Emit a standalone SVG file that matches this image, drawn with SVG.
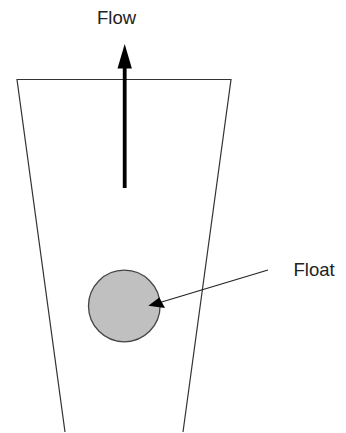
<svg xmlns="http://www.w3.org/2000/svg" width="346" height="433" viewBox="0 0 346 433">
<style>
.lbl{font-family:"Liberation Sans",Arial,sans-serif;font-size:18.5px;fill:#222}
.wall{fill:none;stroke:#333;stroke-width:1.2}
</style>
<rect width="346" height="433" fill="#fff"/>
<g id="tube">
<polyline class="wall" points="65,432 17,79.5 231,79.5 183,432"/>
</g>
<g id="float">
<circle cx="124.3" cy="306" r="35.8" fill="#c0c0c0" stroke="#444" stroke-width="1.3"/>
</g>
<g id="flow-label">
<text class="lbl" x="97" y="24">Flow</text>
</g>
<g id="float-label">
<text class="lbl" x="293.5" y="275.7">Float</text>
</g>
<g id="connectors">
<line x1="124.7" y1="188" x2="124.7" y2="66" stroke="#000" stroke-width="3.8"/>
<polygon points="124.7,44 117.5,68.5 131.9,68.5" fill="#000"/>
<line x1="268" y1="270" x2="160" y2="302.5" stroke="#222" stroke-width="1.2"/>
<polygon points="148.3,305.8 159.3,297.5 165,308" fill="#000"/>
</g>
</svg>
